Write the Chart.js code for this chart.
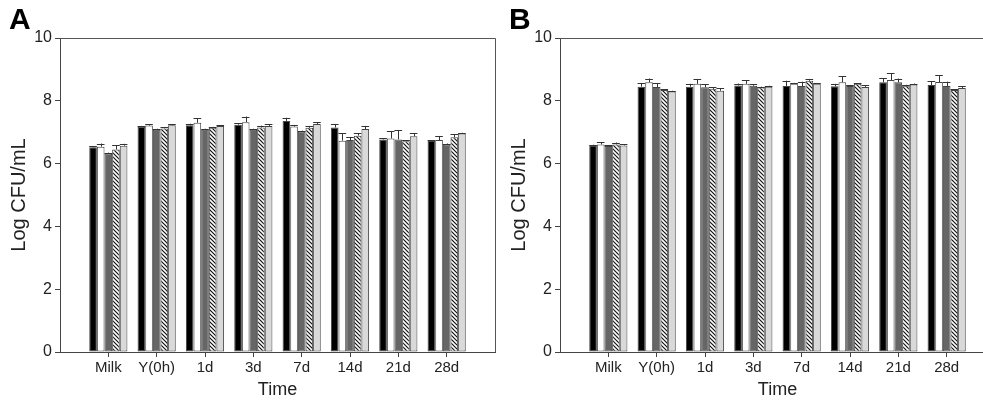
<!DOCTYPE html>
<html>
<head>
<meta charset="utf-8">
<script src="https://cdn.jsdelivr.net/npm/chart.js@4.4.0/dist/chart.umd.min.js"></script>
<style>
    body { margin: 0; width: 983px; height: 405px; overflow: hidden; background: #fff; position: relative; }
    .panel { position: absolute; top: 0; width: 500px; height: 405px; }
    .letter { position: absolute; top: 2px; font: bold 30px "Liberation Sans", Arial, sans-serif; color: #000; }
</style>
</head>
<body>
<div class="panel" style="left:0"><canvas id="chartA" width="500" height="405"></canvas></div>
<div class="panel" style="left:500px"><canvas id="chartB" width="500" height="405"></canvas></div>
<div class="letter" style="left:9px">A</div>
<div class="letter" style="left:509px">B</div>
<script>
var categories = ["Milk", "Y(0h)", "1d", "3d", "7d", "14d", "21d", "28d"];
var yTicks = [0, 2, 4, 6, 8, 10];

// panel A
var a1 = [6.52, 7.17, 7.22, 7.24, 7.36, 7.15, 6.77, 6.72];
var a2 = [6.54, 7.21, 7.30, 7.32, 7.18, 6.73, 6.80, 6.75];
var a3 = [6.32, 7.08, 7.08, 7.08, 7.02, 6.75, 6.77, 6.61];
var a4 = [6.45, 7.12, 7.14, 7.15, 7.14, 6.89, 6.71, 6.84];
var a5 = [6.57, 7.22, 7.20, 7.20, 7.26, 7.10, 6.87, 6.96];
var a1Err = [0.03, 0.03, 0.05, 0.05, 0.10, 0.10, 0.03, 0.03];
var a2Err = [0.10, 0.04, 0.15, 0.18, 0.05, 0.24, 0.24, 0.13];
var a3Err = [0.03, 0.03, 0.03, 0.03, 0.03, 0.10, 0.30, 0.03];
var a4Err = [0.14, 0.03, 0.03, 0.06, 0.06, 0.08, 0.03, 0.10];
var a5Err = [0.06, 0.03, 0.03, 0.06, 0.05, 0.10, 0.10, 0.02];

// panel B
var b1 = [6.56, 8.45, 8.45, 8.49, 8.47, 8.46, 8.59, 8.50];
var b2 = [6.61, 8.59, 8.54, 8.54, 8.54, 8.59, 8.66, 8.60];
var b3 = [6.56, 8.44, 8.43, 8.48, 8.47, 8.47, 8.59, 8.47];
var b4 = [6.61, 8.34, 8.38, 8.42, 8.64, 8.54, 8.48, 8.34];
var b5 = [6.58, 8.30, 8.32, 8.45, 8.54, 8.44, 8.52, 8.41];
var b1Err = [0.04, 0.12, 0.09, 0.06, 0.17, 0.08, 0.13, 0.13];
var b2Err = [0.07, 0.12, 0.15, 0.12, 0.03, 0.20, 0.21, 0.21];
var b3Err = [0.03, 0.12, 0.10, 0.05, 0.14, 0.03, 0.12, 0.14];
var b4Err = [0.06, 0.02, 0.06, 0.03, 0.04, 0.02, 0.03, 0.02];
var b5Err = [0.03, 0.02, 0.08, 0.03, 0.02, 0.05, 0.03, 0.05];

var FONT = '"Liberation Sans", Arial, sans-serif';

function hatch() {
    var c = document.createElement('canvas');
    c.width = 4; c.height = 4;
    var g = c.getContext('2d');
    g.fillStyle = '#fff';
    g.fillRect(0, 0, 4, 4);
    g.strokeStyle = '#111';
    g.lineWidth = 1.2;
    g.beginPath();
    g.moveTo(0, 0); g.lineTo(4, 4);
    g.moveTo(-1, 3); g.lineTo(1, 5);
    g.moveTo(3, -1); g.lineTo(5, 1);
    g.stroke();
    return g.createPattern(c, 'repeat');
}

// one empty slot each side so the groups sit at 1..8 of 0..9
function pad(arr) {
    return [null].concat(arr).concat([null]);
}

var errorBars = {
    id: 'errorBars',
    afterDatasetsDraw: function(chart) {
        var ctx = chart.ctx;
        var y = chart.scales.y;
        ctx.save();
        ctx.strokeStyle = '#333';
        ctx.lineWidth = 1;
        chart.data.datasets.forEach(function(ds, i) {
            var meta = chart.getDatasetMeta(i);
            meta.data.forEach(function(bar, j) {
                var v = ds.data[j];
                var e = ds.err[j];
                if (v == null || e == null) return;
                var top = y.getPixelForValue(v + e);
                var half = bar.width / 2;
                ctx.beginPath();
                ctx.moveTo(Math.round(bar.x) + 0.5, bar.y);
                ctx.lineTo(Math.round(bar.x) + 0.5, top);
                ctx.moveTo(bar.x - half, Math.round(top) + 0.5);
                ctx.lineTo(bar.x + half, Math.round(top) + 0.5);
                ctx.stroke();
            });
        });
        ctx.restore();
    }
};

var frame = {
    id: 'frame',
    afterDraw: function(chart) {
        var a = chart.chartArea;
        var ctx = chart.ctx;
        ctx.save();
        ctx.strokeStyle = '#555';
        ctx.lineWidth = 1;
        ctx.beginPath();
        ctx.moveTo(a.left, a.top + 0.5);
        ctx.lineTo(a.right + 0.5, a.top + 0.5);
        ctx.lineTo(a.right + 0.5, a.bottom);
        ctx.stroke();
        ctx.restore();
    }
};

function makeChart(id, series, errs) {
    var fills = ['#000', '#fff', '#666', hatch(), '#d9d9d9'];
    var datasets = series.map(function(s, i) {
        return {
            data: pad(s),
            err: pad(errs[i]),
            backgroundColor: fills[i],
            borderColor: '#444',
            borderWidth: 1,
            borderSkipped: false,
            barPercentage: 1,
            categoryPercentage: 0.79
        };
    });
    var labels = pad(categories).map(function(c) { return c || ''; });

    new Chart(document.getElementById(id), {
        type: 'bar',
        data: { labels: labels, datasets: datasets },
        options: {
            responsive: false,
            animation: false,
            layout: { padding: { top: 38, right: 5, left: 0, bottom: 0 } },
            plugins: { legend: { display: false }, tooltip: { enabled: false } },
            scales: {
                x: {
                    offset: false,
                    grid: {
                        offset: false,
                        drawOnChartArea: false,
                        tickLength: 5,
                        tickColor: function(c) {
                            return (c.index === 0 || c.index === labels.length - 1) ? 'rgba(0,0,0,0)' : '#444';
                        }
                    },
                    border: { color: '#444' },
                    ticks: { autoSkip: false, maxRotation: 0, padding: 2, color: '#222', font: { family: FONT, size: 15 } },
                    title: { display: true, text: 'Time', color: '#222', padding: { top: 6 }, font: { family: FONT, size: 18 } },
                    afterFit: function(s) { s.height = 53; }
                },
                y: {
                    min: 0, max: 10,
                    afterBuildTicks: function(s) { s.ticks = yTicks.map(function(v) { return { value: v }; }); },
                    grid: { drawOnChartArea: false, tickLength: 5, tickColor: '#444' },
                    border: { color: '#444' },
                    ticks: { padding: 3, color: '#222', font: { family: FONT, size: 16 } },
                    title: { display: true, text: 'Log CFU/mL', color: '#222', padding: { top: 7 }, font: { family: FONT, size: 20 } },
                    afterFit: function(s) { s.width = 60; }
                }
            }
        },
        plugins: [errorBars, frame]
    });
}

makeChart('chartA', [a1, a2, a3, a4, a5], [a1Err, a2Err, a3Err, a4Err, a5Err]);
makeChart('chartB', [b1, b2, b3, b4, b5], [b1Err, b2Err, b3Err, b4Err, b5Err]);
</script>
</body>
</html>
